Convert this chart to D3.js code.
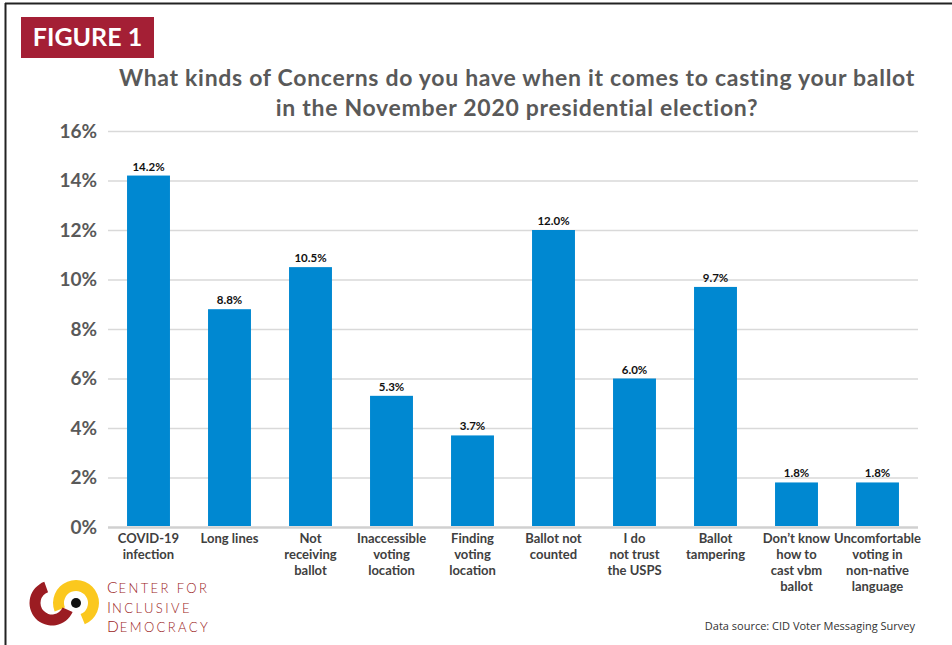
<!DOCTYPE html>
<html>
<head>
<meta charset="utf-8">
<script src="https://cdn.jsdelivr.net/npm/d3@7"></script>
<style>
html,body{margin:0;padding:0;background:#fff;}
svg{display:block;}
</style>
</head>
<body>
<svg id="chart" width="952" height="645"></svg>
<script>
const categories = [
  ["COVID-19","infection"],
  ["Long lines"],
  ["Not","receiving","ballot"],
  ["Inaccessible","voting","location"],
  ["Finding","voting","location"],
  ["Ballot not","counted"],
  ["I do","not trust","the USPS"],
  ["Ballot","tampering"],
  ["Don\u2019t know","how  to","cast vbm","ballot"],
  ["Uncomfortable","voting in","non-native","language"]
];
const values = [14.2, 8.8, 10.5, 5.3, 3.7, 12.0, 6.0, 9.7, 1.8, 1.8];
const valueLabels = ["14.2%","8.8%","10.5%","5.3%","3.7%","12.0%","6.0%","9.7%","1.8%","1.8%"];
const yTicks = [0,2,4,6,8,10,12,14,16];
const titleLines = ["What kinds of Concerns do you have when it comes to casting your ballot","in the November 2020 presidential election?"];
const figureLabel = "FIGURE 1";
const logoLines = [["C","ENTER FOR"],["I","NCLUSIVE"],["D","EMOCRACY"]];
const sourceText = "Data source: CID Voter Messaging Survey";

(function(){
const svg = d3.select("#chart");
const FONT = "Lato, 'Open Sans', sans-serif";

// frame
svg.append("line").attr("x1",5).attr("x2",952).attr("y1",3.5).attr("y2",3.5).attr("stroke","#222").attr("stroke-width",2);
svg.append("line").attr("x1",5.5).attr("x2",5.5).attr("y1",3).attr("y2",645).attr("stroke","#222").attr("stroke-width",2);

// figure badge
svg.append("rect").attr("x",21).attr("y",17).attr("width",133).attr("height",41).attr("fill","#a41f35");
svg.append("text").attr("x",87.5).attr("y",46).attr("text-anchor","middle")
  .attr("font-family",FONT).attr("font-weight","bold").attr("font-size",25).attr("fill","#fff").text(figureLabel);

// title
svg.selectAll("text.title").data(titleLines).join("text").attr("class","title")
  .attr("x",517).attr("y",(d,i)=>86+i*30).attr("text-anchor","middle")
  .attr("font-family",FONT).attr("font-weight","bold").attr("font-size",23)
  .attr("letter-spacing",0.7).attr("fill","#595959")
  .text(d=>d);

const pL=108, pR=918, pT=131, pB=527;
const x = d3.scaleBand().domain(d3.range(values.length)).range([pL,pR]).paddingInner(0.47).paddingOuter(0.235);
const y = d3.scaleLinear().domain([0,16]).range([pB,pT]);

// grid
const yAxis = d3.axisLeft(y).tickValues(yTicks).tickSize(-(pR-pL)).tickFormat(d=>d+"%");
const gy = svg.append("g").attr("transform",`translate(${pL},0)`).call(yAxis);
gy.select(".domain").remove();
gy.selectAll(".tick line").attr("stroke","#d9d9d9").attr("stroke-width",1.5);
gy.selectAll(".tick text").attr("x",-11).attr("dy","0.32em")
  .attr("font-family",FONT).attr("font-weight","bold").attr("font-size",19).attr("fill","#595959");
gy.selectAll(".tick").filter(d=>d===0).select("line").attr("stroke","#d0d0d0").attr("stroke-width",2.5);

// bars
svg.selectAll("rect.bar").data(values).join("rect").attr("class","bar")
  .attr("x",(d,i)=>x(i)).attr("width",x.bandwidth())
  .attr("y",d=>y(d)).attr("height",d=>pB-y(d)-1)
  .attr("fill","#0088d1");

// value labels
svg.selectAll("text.val").data(values).join("text").attr("class","val")
  .attr("x",(d,i)=>x(i)+x.bandwidth()/2).attr("y",d=>y(d)-5)
  .attr("text-anchor","middle").attr("font-family",FONT).attr("font-weight","bold")
  .attr("font-size",11.5).attr("fill","#111").text((d,i)=>valueLabels[i]);

// category labels
const cat = svg.selectAll("text.cat").data(categories).join("text").attr("class","cat")
  .attr("text-anchor","middle").attr("font-family",FONT).attr("font-weight","bold")
  .attr("font-size",13).attr("fill","#404040");
cat.each(function(lines,i){
  const t=d3.select(this);
  lines.forEach((l,j)=>{
    t.append("tspan").attr("x",x(i)+x.bandwidth()/2).attr("y",543+j*16).text(l);
  });
});

// logo
const lg = svg.append("g");
lg.append("path").attr("transform","translate(76,603)")
  .attr("d",d3.arc()({innerRadius:12,outerRadius:23,startAngle:-1.95,endAngle:2.75}))
  .attr("fill","#fbc81e");
lg.append("path").attr("transform","translate(52,603)")
  .attr("d",d3.arc()({innerRadius:11.5,outerRadius:22.5,startAngle:-0.35,endAngle:-4.3}))
  .attr("fill","#9b1c22");
lg.append("circle").attr("cx",76).attr("cy",603).attr("r",5).attr("fill","#111");

logoLines.forEach((d,i)=>{
  const t = svg.append("text").attr("x",107).attr("y",593+i*19.5)
    .attr("font-family","Lato, sans-serif").attr("font-weight","300").attr("fill","#9b1c22");
  t.append("tspan").attr("font-size",15.5).attr("letter-spacing",1).text(d[0]);
  t.append("tspan").attr("font-size",13).attr("letter-spacing",2.4).text(d[1]);
});

// source
svg.append("text").attr("x",915).attr("y",630).attr("text-anchor","end")
  .attr("font-family","'Open Sans', sans-serif").attr("font-size",11).attr("fill","#333").text(sourceText);
})();
</script>
</body>
</html>
